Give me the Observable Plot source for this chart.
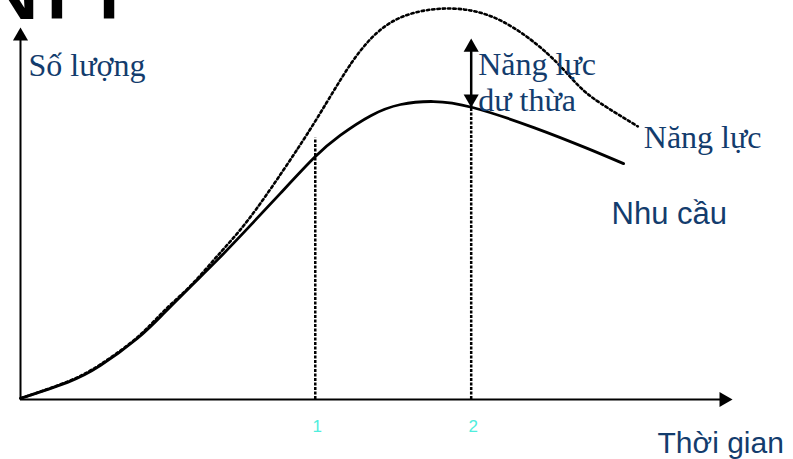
<!DOCTYPE html>
<html><head><meta charset="utf-8">
<script src="https://cdn.jsdelivr.net/npm/d3@7"></script>
<script src="https://cdn.jsdelivr.net/npm/@observablehq/plot@0.6"></script>
<style>body{margin:0;background:#fff;overflow:hidden} svg{overflow:visible}</style>
</head><body><div id="chart"></div>
<script>
// Demand (Nhu cầu) – solid curve
const demandTime  = [0, 6.6, 11.2, 16.4, 20.1, 23.9, 27.7, 31.9, 36.5, 41.3, 44.9, 49.2, 53.4, 58.0, 63.5, 72.1, 79.6, 84.7];
const demandValue = [0.3, 4.6, 9.1, 16.4, 23.1, 30.4, 37.6, 46.0, 55.4, 65.1, 71.0, 76.3, 79.3, 80.1, 78.5, 73.1, 67.5, 63.4];
// Capacity (Năng lực) – dotted curve
const capacityTime  = [0, 6.6, 11.2, 16.4, 20.1, 23.9, 27.7, 31.9, 36.9, 41.2, 44.9, 48.5, 53.4, 60.4, 67.4, 74.0, 78.2, 81.5, 86.7];
const capacityValue = [0.3, 4.8, 9.4, 16.7, 23.7, 30.6, 38.7, 48.1, 61.6, 74.2, 85.8, 95.5, 102.7, 105.1, 101.9, 93.0, 84.7, 79.6, 73.4];
// Marked time points
const markTimes = [41.4, 63.3];
const markTops  = [70.2, 79.0];
const tickLabels = ["1", "2"];
// Excess capacity arrow (at time point 2)
const excessRange = [78.5, 97.0];
// Axis extents
const timeDomain = [0, 100];
const valueDomain = [0, 100];
// Texts
const titleText = "NH";
const yLabel = "Số lượng";
const xLabel = "Thời gian";
const demandLabel = "Nhu cầu";
const capacityLabel = "Năng lực";
const excessLabel = "Năng lực\ndư thừa";

const blue = "#133C6D";
const cyan = "#4FEEDD";
const serif = "Liberation Serif, Times New Roman, serif";
const sans = "Liberation Sans, Arial, sans-serif";

const demand = demandTime.map((t, i) => ({t, v: demandValue[i]}));
const capacity = capacityTime.map((t, i) => ({t, v: capacityValue[i]}));
const marks = markTimes.map((t, i) => ({t, top: markTops[i], label: tickLabels[i]}));
const xMax = timeDomain[1], yMax = valueDomain[1];
const tri = 8.66; // centroid-to-tip distance of arrowheads

const chart = Plot.plot({
  width: 793, height: 459,
  marginLeft: 20, marginRight: 61, marginTop: 27, marginBottom: 60,
  x: {domain: timeDomain, axis: null},
  y: {domain: valueDomain, axis: null},
  style: {background: "#fff", overflow: "visible"},
  marks: [
    // axes
    Plot.ruleY([0], {x1: 0, x2: xMax - 1.5, stroke: "#000", strokeWidth: 2}),
    Plot.ruleX([0], {y1: 0, y2: yMax - 2, stroke: "#000", strokeWidth: 2}),
    Plot.dot([{x: xMax, y: 0}], {x: "x", y: "y", symbol: "triangle", r: 5.6, rotate: 90, fill: "#000", stroke: null, dx: -tri}),
    Plot.dot([{x: 0, y: yMax}], {x: "x", y: "y", symbol: "triangle", r: 5.6, rotate: 0, fill: "#000", stroke: null, dy: tri}),
    // vertical dotted markers
    Plot.ruleX(marks, {x: "t", y1: 0, y2: "top", stroke: "#000", strokeWidth: 2.5, strokeDasharray: "3,1.5"}),
    // curves
    Plot.line(capacity, {x: "t", y: "v", curve: "natural", stroke: "#000", strokeWidth: 2.6, strokeDasharray: "2.4,2.9"}),
    Plot.line(demand, {x: "t", y: "v", curve: "natural", stroke: "#000", strokeWidth: 2.8}),
    // excess capacity double arrow
    Plot.ruleX([markTimes[1]], {y1: excessRange[0] + 2, y2: excessRange[1] - 2, stroke: "#000", strokeWidth: 2.5}),
    Plot.dot([{x: markTimes[1], y: excessRange[1]}], {x: "x", y: "y", symbol: "triangle", r: 5.6, rotate: 0, fill: "#000", stroke: null, dy: tri}),
    Plot.dot([{x: markTimes[1], y: excessRange[0]}], {x: "x", y: "y", symbol: "triangle", r: 5.6, rotate: 180, fill: "#000", stroke: null, dy: -tri}),
    // tick labels
    Plot.text(marks, {x: "t", y: () => 0, text: "label", fill: cyan, fontSize: 17, fontFamily: sans, dx: 2, dy: 27, lineAnchor: "middle"}),
    // texts
    Plot.text([titleText], {x: () => 0, y: () => yMax, text: d => d, fill: "#000", fontSize: 112, fontFamily: sans, textAnchor: "start", lineAnchor: "bottom", dx: -59, dy: -9}),
    Plot.text([yLabel], {x: () => 0, y: () => yMax, text: d => d, fill: blue, fontSize: 32, fontFamily: serif, textAnchor: "start", lineAnchor: "bottom", dx: 8, dy: 48}),
    Plot.text([xLabel], {x: () => xMax, y: () => 0, text: d => d, fill: blue, fontSize: 30, fontFamily: sans, textAnchor: "start", lineAnchor: "bottom", dx: -75, dy: 53}),
    Plot.text([demand[demand.length - 1]], {x: "t", y: "v", text: () => demandLabel, fill: blue, fontSize: 31, fontFamily: sans, textAnchor: "start", lineAnchor: "bottom", dx: -12, dy: 60}),
    Plot.text([capacity[capacity.length - 1]], {x: "t", y: "v", text: () => capacityLabel, fill: blue, fontSize: 32, fontFamily: serif, textAnchor: "start", lineAnchor: "bottom", dx: 6, dy: 22}),
    Plot.text([{x: markTimes[1], y: excessRange[1]}], {x: "x", y: "y", text: () => excessLabel, fill: blue, fontSize: 32, fontFamily: serif, textAnchor: "start", lineAnchor: "bottom", lineHeight: 1.1, dx: 7, dy: 72})
  ]
});
document.getElementById("chart").appendChild(chart);
</script>
</body></html>
